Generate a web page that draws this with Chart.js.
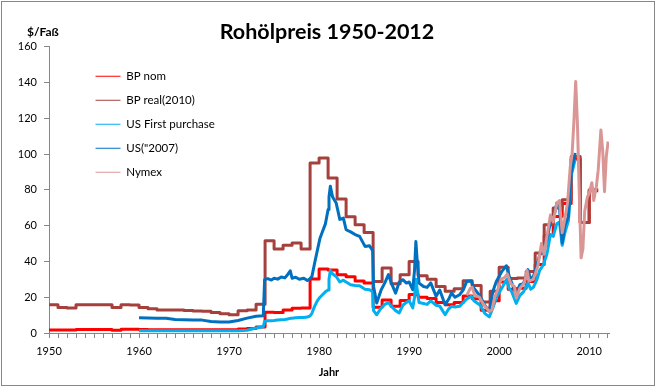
<!DOCTYPE html>
<html>
<head>
<meta charset="utf-8">
<script src="https://cdn.jsdelivr.net/npm/chart.js@4.4.0/dist/chart.umd.min.js"></script>
<style>
  body { margin: 0; background: #fff; }
  #wrap { width: 657px; height: 387px; }
</style>
</head>
<body>
<div id="wrap"><canvas id="oilChart" width="657" height="387"></canvas></div>
<script>
// BP annual prices (last entry closes the 2010 step)
const bpYears = [1950, 1951, 1952, 1953, 1954, 1955, 1956, 1957, 1958, 1959,
  1960, 1961, 1962, 1963, 1964, 1965, 1966, 1967, 1968, 1969,
  1970, 1971, 1972, 1973, 1974, 1975, 1976, 1977, 1978, 1979,
  1980, 1981, 1982, 1983, 1984, 1985, 1986, 1987, 1988, 1989,
  1990, 1991, 1992, 1993, 1994, 1995, 1996, 1997, 1998, 1999,
  2000, 2001, 2002, 2003, 2004, 2005, 2006, 2007, 2008, 2009, 2010, 2011];
const bpNominal = [1.7, 1.7, 1.7, 1.9, 1.9, 1.9, 1.9, 1.6, 2.1, 2.1,
  1.9, 1.8, 1.8, 1.8, 1.8, 1.8, 1.8, 1.8, 1.8, 1.8,
  1.8, 2.2, 2.5, 3.3, 11.6, 11.5, 12.8, 13.9, 14.0, 30.2,
  35.8, 35.2, 32.5, 31.5, 29.0, 28.0, 14.4, 18.4, 14.9, 18.2,
  21.5, 20.0, 19.3, 17.0, 15.8, 17.0, 20.7, 19.1, 12.7, 18.0,
  28.5, 24.4, 25.0, 28.8, 38.3, 54.5, 65.1, 72.4, 97.3, 61.7, 79.5, 79.5];
const bpReal = [15.8, 14.2, 14.0, 15.8, 15.8, 15.8, 15.8, 14.3, 15.8, 15.6,
  14.2, 13.6, 12.8, 12.8, 12.8, 12.6, 12.3, 12.2, 11.4, 10.8,
  10.2, 12.4, 12.8, 16.0, 51.5, 47.0, 49.0, 50.3, 47.0, 95.0,
  97.8, 86.6, 74.9, 65.0, 60.5, 56.2, 28.8, 36.3, 27.5, 32.6,
  40.0, 32.0, 30.0, 26.0, 23.3, 24.7, 29.2, 26.6, 17.3, 23.3,
  36.7, 30.5, 30.7, 34.4, 44.7, 60.5, 69.8, 74.5, 98.7, 61.8, 80.0, 80.0];

// US crude prices (nominal first purchase and 2007 dollars)
const usYears = [1960, 1961, 1962, 1963, 1964, 1965, 1966, 1967, 1968, 1969,
  1970, 1971, 1972, 1973, 1973.8, 1973.95, 1974.3, 1974.7, 1975.0, 1975.4,
  1975.8, 1976.2, 1976.5, 1976.8, 1977.0, 1977.4, 1977.8, 1978.3, 1978.7, 1979.0,
  1979.2, 1979.5, 1979.8, 1980.1, 1980.4, 1980.7, 1981.0, 1981.1, 1981.25, 1981.5,
  1981.9, 1982.3, 1982.7, 1983.0, 1983.5, 1984.0, 1984.5, 1985.1, 1985.6, 1985.95,
  1986.05, 1986.4, 1986.9, 1987.3, 1987.7, 1988.1, 1988.5, 1988.9, 1989.3, 1989.7,
  1990.0, 1990.4, 1990.6, 1990.75, 1990.9, 1991.1, 1991.6, 1992.0, 1992.4, 1993.0,
  1993.4, 1994.0, 1994.4, 1994.7, 1995.1, 1995.6, 1996.0, 1996.4, 1996.9, 1997.2,
  1997.9, 1998.4, 1998.9, 1999.3, 1999.7, 2000.3, 2000.8, 2001.1, 2001.4, 2001.9,
  2002.3, 2002.7, 2003.2, 2003.5, 2003.8, 2004.2, 2004.5, 2004.9, 2005.3, 2005.7,
  2006.0, 2006.4, 2006.7, 2007.0, 2007.3, 2007.7, 2008.0, 2008.2, 2008.45];
const usFirst = [1.3, 1.3, 1.3, 1.3, 1.3, 1.3, 1.3, 1.3, 1.3, 1.3,
  1.3, 1.3, 1.5, 2.8, 3.5, 6.5, 6.8, 6.9, 7.0, 7.2,
  7.4, 7.6, 7.8, 8.2, 8.3, 8.5, 8.6, 8.7, 8.9, 9.6,
  11.0, 14.9, 18.0, 20.0, 21.5, 23.0, 24.0, 30.0, 35.0, 33.0,
  31.6, 28.5, 29.5, 28.5, 27.0, 26.6, 26.4, 24.5, 24.2, 23.0,
  12.5, 10.2, 14.0, 16.0, 17.0, 14.5, 12.5, 11.2, 15.5, 17.1,
  18.0, 14.0, 20.0, 30.0, 24.0, 17.0, 16.5, 16.0, 18.0, 15.5,
  15.0, 10.2, 13.5, 14.9, 14.5, 14.9, 17.0, 19.0, 20.5, 18.0,
  15.5, 11.0, 9.0, 14.0, 20.0, 25.1, 29.8, 25.0, 23.0, 16.5,
  21.0, 23.0, 28.0, 24.5, 25.5, 30.0, 35.0, 38.0, 44.0, 55.0,
  54.0, 61.0, 62.0, 49.0, 56.0, 63.0, 88.0, 92.0, 97.0];
const usReal2007 = [8.5, 8.4, 8.3, 8.2, 7.6, 7.4, 7.3, 7.2, 6.4, 6.2,
  6.1, 7.0, 8.3, 9.4, 9.7, 29.8, 30.4, 29.6, 30.6, 30.1,
  31.3, 30.8, 32.6, 34.8, 30.6, 31.2, 30.0, 30.6, 29.3, 30.4,
  31.5, 39.0, 46.0, 53.0, 57.0, 61.0, 69.0, 76.0, 82.0, 76.0,
  72.6, 63.5, 64.2, 57.7, 56.5, 55.0, 54.0, 48.4, 48.8, 46.0,
  26.0, 16.8, 24.2, 28.0, 32.6, 27.0, 22.3, 28.5, 29.8, 27.9,
  28.5, 24.2, 35.0, 51.2, 40.0, 27.9, 26.0, 25.5, 28.0, 20.5,
  24.0, 15.8, 19.0, 22.3, 20.0, 21.4, 24.0, 28.8, 29.0, 25.1,
  20.5, 15.5, 12.1, 23.2, 29.0, 34.4, 37.6, 32.0, 27.9, 21.4,
  27.0, 27.5, 35.4, 30.0, 31.6, 38.0, 43.7, 45.0, 52.1, 62.0,
  63.3, 72.6, 70.0, 50.3, 60.0, 65.2, 89.4, 95.0, 100.6];

// Nymex futures
const nymexYears = [1996.4, 1996.8, 1997.0, 1997.3, 1997.8, 1998.2, 1998.5, 1998.9, 1999.2, 1999.5,
  1999.9, 2000.2, 2000.6, 2000.9, 2001.3, 2001.7, 2001.9, 2002.3, 2002.8, 2003.1,
  2003.3, 2003.8, 2004.3, 2004.7, 2005.0, 2005.3, 2005.7, 2006.0, 2006.4, 2006.7,
  2007.0, 2007.3, 2007.6, 2007.9, 2008.1, 2008.3, 2008.5, 2008.7, 2008.9, 2009.1,
  2009.3, 2009.5, 2009.8, 2010.0, 2010.3, 2010.5, 2010.8, 2011.0, 2011.3, 2011.5,
  2011.7, 2011.9, 2012.1];
const nymex = [21, 25, 25.5, 21, 20, 16.5, 14.5, 12, 13, 20,
  25, 30, 31, 33, 27.5, 26, 19.5, 25, 28, 35,
  29, 30, 37.5, 50, 44, 54, 66, 62, 72.5, 74,
  56, 64, 73, 93, 100, 118, 140.5, 116, 78, 42,
  47, 68, 76, 78, 84, 74, 82, 91, 113.5, 102,
  79, 98.7, 107];

const yTicks = [0, 20, 40, 60, 80, 100, 120, 140, 160];
const decadeLabels = [1950, 1960, 1970, 1980, 1990, 2000, 2010];

function pts(xs, ys) {
  return xs.map((x, i) => ({ x: x, y: ys[i] }));
}

const gray = "#868686";
const fontFam = "Lato, 'Open Sans', sans-serif";

const frame = {
  id: "frame",
  afterUpdate(chart) {
    // move the legend into the plot like the original
    chart.legend.left += 34;
    chart.legend.top += 58;
    chart.titleBlock.left -= 4;
  },
  afterDraw(chart) {
    const ctx = chart.ctx;
    ctx.save();
    ctx.strokeStyle = gray;
    ctx.lineWidth = 1;
    ctx.strokeRect(1.5, 1.5, 653, 384);
    ctx.fillStyle = "#000";
    ctx.font = "bold 12px " + fontFam;
    ctx.textAlign = "left";
    ctx.textBaseline = "middle";
    ctx.fillText("$/Faß", 27, 32);
    ctx.restore();
  }
};

const ctx = document.getElementById("oilChart").getContext("2d");
new Chart(ctx, {
  type: "line",
  data: {
    datasets: [
      { label: "Nymex", data: pts(nymexYears, nymex), borderColor: "#D99694" },
      { label: 'US("2007)', data: pts(usYears, usReal2007), borderColor: "#0070C0" },
      { label: "US First purchase", data: pts(usYears, usFirst), borderColor: "#00B0F0" },
      { label: "BP real(2010)", data: pts(bpYears, bpReal), borderColor: "#A5403D", stepped: "before" },
      { label: "BP nom", data: pts(bpYears, bpNominal), borderColor: "#FF0000", stepped: "before" },
    ],
  },
  options: {
    responsive: false,
    animation: false,
    devicePixelRatio: 1,
    layout: { padding: { left: 0, right: 48, top: 0, bottom: 0 } },
    elements: {
      line: { borderWidth: 3, tension: 0, fill: false, borderJoinStyle: "round" },
      point: { radius: 0 },
    },
    plugins: {
      tooltip: { enabled: false },
      title: {
        display: true,
        fullSize: false,
        text: "Rohölpreis 1950-2012",
        color: "#000",
        font: { family: fontFam, size: 21.5, weight: "bold", lineHeight: 1 },
        padding: { top: 21.5, bottom: 3.7 },
      },
      legend: {
        position: "chartArea",
        align: "start",
        reverse: true,
        labels: {
          usePointStyle: true,
          pointStyle: "line",
          pointStyleWidth: 25,
          padding: 12.5,
          color: "#000",
          font: { family: fontFam, size: 11.5 },
        },
      },
    },
    scales: {
      x: {
        type: "linear",
        min: 1950,
        max: 2012.2,
        afterFit(scale) { scale.height = 54; },
        border: { color: gray, width: 1 },
        grid: { drawOnChartArea: false, color: gray, tickLength: 5 },
        ticks: {
          stepSize: 1,
          autoSkip: false,
          includeBounds: false,
          maxRotation: 0,
          padding: 7,
          color: "#000",
          font: { family: fontFam, size: 11 },
          callback: (v) => (decadeLabels.includes(v) ? String(v) : ""),
        },
        title: {
          display: true,
          text: "Jahr",
          color: "#000",
          font: { family: fontFam, size: 11, weight: "bold" },
          padding: { top: 0, bottom: 8 },
        },
      },
      y: {
        min: 0,
        max: 160,
        afterFit(scale) { scale.width = 49; },
        afterBuildTicks(scale) { scale.ticks = yTicks.map((v) => ({ value: v })); },
        border: { color: gray, width: 1 },
        grid: { drawOnChartArea: false, color: gray, tickLength: 5 },
        ticks: {
          padding: 7,
          color: "#000",
          font: { family: fontFam, size: 11 },
        },
      },
    },
  },
  plugins: [frame],
});
</script>
</body>
</html>
